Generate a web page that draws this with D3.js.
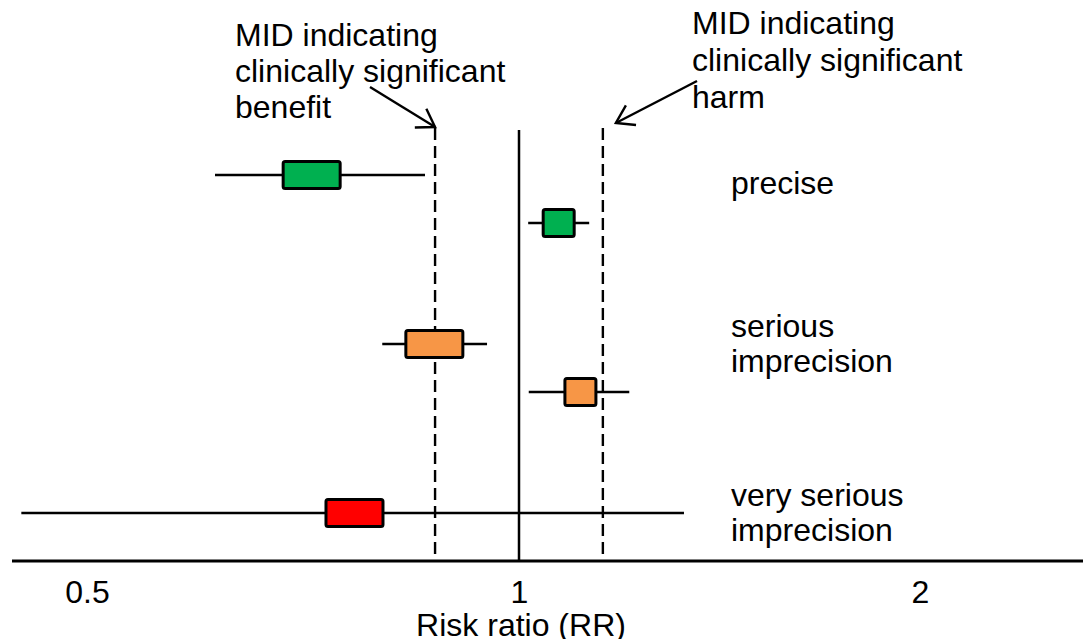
<!DOCTYPE html>
<html>
<head>
<meta charset="utf-8">
<script src="https://cdn.jsdelivr.net/npm/d3@7"></script>
<style>
  html, body { margin: 0; padding: 0; background: #fff; }
  text { font-family: "Liberation Sans", Arial, sans-serif; fill: #000; }
</style>
</head>
<body>
<svg id="chart" width="1083" height="639"></svg>
<script>
// ---- Data ----
const groups = ["precise", "serious", "very serious"];
const groupLabels = [["precise"], ["serious", "imprecision"], ["very serious", "imprecision"]];
const studyGroup = ["precise", "precise", "serious", "serious", "very serious"];
const studyIndex = [0, 1, 0, 1, 0];
const estimates = [0.717, 1.071, 0.873, 1.112, 0.768];
const ciLower = [0.614, 1.016, 0.803, 1.017, 0.450];
const ciUpper = [0.860, 1.129, 0.950, 1.210, 1.330];
const weights = [2, 1, 2, 1, 2];
const boxColors = ["#00B050", "#00B050", "#F79646", "#F79646", "#FF0000"];
const midBenefit = 0.874;
const midHarm = 1.156;
const tickValues = [0.5, 1, 2];
const tickLabels = ["0.5", "1", "2"];
const axisTitle = "Risk ratio (RR)";
const benefitText = ["MID indicating", "clinically significant", "benefit"];
const harmText = ["MID indicating", "clinically significant", "harm"];

// ---- Layout ----
const W = 1083, H = 639;
const axisY = 561;
const lineTop = 128;
const fontSize = "32px";
const svg = d3.select("#chart");

const x = d3.scaleLog().domain([0.5, 1, 2]).range([87, 519, 920]);
const gy = d3.scalePoint().domain(groups).range([175, 513]);
const rowStep = 48;
const boxW = d3.scaleLinear().domain([1, 2]).range([31, 57]);
const boxH = 27;

const studies = estimates.map((e, i) => ({
  est: e, lo: ciLower[i], hi: ciUpper[i], w: weights[i],
  color: boxColors[i], y: gy(studyGroup[i]) + studyIndex[i] * rowStep
}));

// arrow marker
svg.append("defs").append("marker")
  .attr("id", "arrow").attr("markerUnits", "userSpaceOnUse")
  .attr("viewBox", "-20 -14 24 28").attr("markerWidth", 24).attr("markerHeight", 28)
  .attr("refX", 0).attr("refY", 0).attr("orient", "auto")
  .append("path").attr("d", "M-17,-11 L0,0 L-17,11")
  .attr("fill", "none").attr("stroke", "#000").attr("stroke-width", 2.4);

// MID dashed lines
[midBenefit, midHarm].forEach(v => {
  svg.append("line")
    .attr("x1", x(v)).attr("x2", x(v))
    .attr("y1", lineTop).attr("y2", axisY)
    .attr("stroke", "#000").attr("stroke-width", 2.4)
    .attr("stroke-dasharray", "12,6");
});

// no-effect line
svg.append("line")
  .attr("x1", x(1)).attr("x2", x(1))
  .attr("y1", 130).attr("y2", axisY)
  .attr("stroke", "#000").attr("stroke-width", 2.5);

// whiskers
svg.selectAll(".ci").data(studies).join("line")
  .attr("class", "ci")
  .attr("x1", d => x(d.lo)).attr("x2", d => x(d.hi))
  .attr("y1", d => d.y).attr("y2", d => d.y)
  .attr("stroke", "#000").attr("stroke-width", 2.4);

// boxes
svg.selectAll(".box").data(studies).join("rect")
  .attr("class", "box")
  .attr("x", d => x(d.est) - boxW(d.w) / 2)
  .attr("y", d => d.y - boxH / 2)
  .attr("width", d => boxW(d.w)).attr("height", boxH)
  .attr("rx", 2)
  .attr("fill", d => d.color).attr("stroke", "#000").attr("stroke-width", 3);

// axis
svg.append("line")
  .attr("x1", 12).attr("x2", W).attr("y1", axisY).attr("y2", axisY)
  .attr("stroke", "#000").attr("stroke-width", 3);

const axisG = svg.append("g").attr("transform", `translate(0,${axisY})`)
  .call(d3.axisBottom(x).tickValues(tickValues)
    .tickFormat((d, i) => tickLabels[i]).tickSize(0).tickPadding(0));
axisG.select(".domain").remove();
axisG.selectAll("text")
  .attr("dy", null).attr("y", 42)
  .style("font-size", fontSize)
  .style("font-family", '"Liberation Sans", Arial, sans-serif')
  .attr("fill", "#000");

svg.append("text")
  .attr("x", x(1) + 2).attr("y", 636)
  .attr("text-anchor", "middle")
  .style("font-size", fontSize)
  .text(axisTitle);

// group labels
groups.forEach((g, gi) => {
  const lines = groupLabels[gi];
  const base = gy(g) + (lines.length === 1 ? 19 : -7);
  lines.forEach((t, i) => {
    svg.append("text")
      .attr("x", 731).attr("y", base + i * 35)
      .style("font-size", fontSize)
      .text(t);
  });
});

// annotations
benefitText.forEach((t, i) => {
  svg.append("text").attr("x", 235).attr("y", 46 + i * 36)
    .style("font-size", fontSize).text(t);
});
harmText.forEach((t, i) => {
  svg.append("text").attr("x", 692).attr("y", 34 + i * 37)
    .style("font-size", fontSize).text(t);
});

svg.append("line")
  .attr("x1", 370).attr("y1", 87)
  .attr("x2", x(midBenefit)).attr("y2", lineTop - 1)
  .attr("stroke", "#000").attr("stroke-width", 2.4)
  .attr("marker-end", "url(#arrow)");

svg.append("line")
  .attr("x1", 697).attr("y1", 81)
  .attr("x2", x(midHarm) + 13).attr("y2", 123)
  .attr("stroke", "#000").attr("stroke-width", 2.4)
  .attr("marker-end", "url(#arrow)");
</script>
</body>
</html>
